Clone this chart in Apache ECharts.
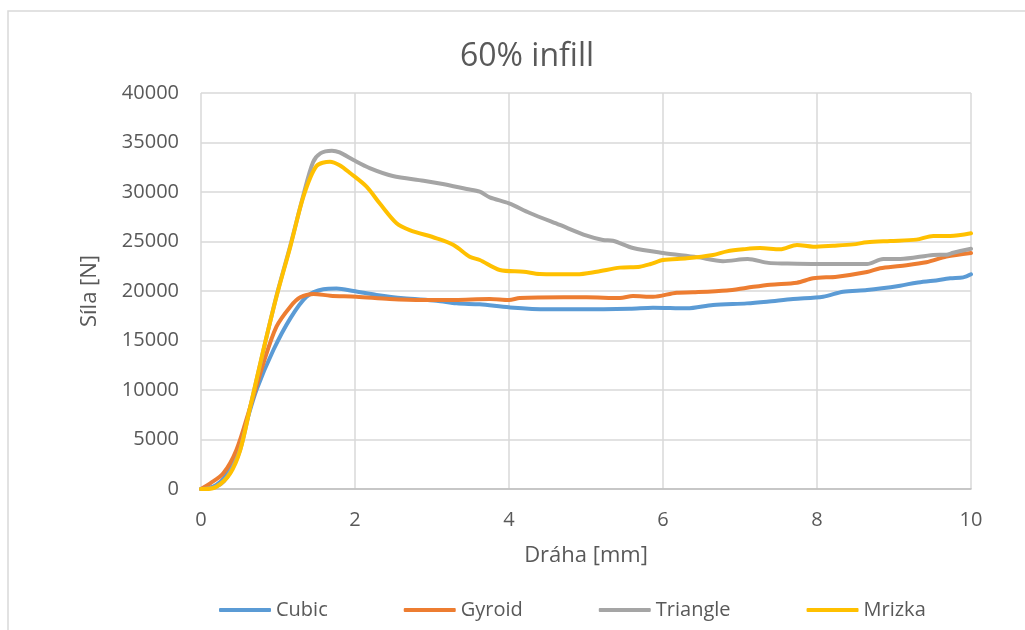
<!DOCTYPE html>
<html>
<head>
<meta charset="utf-8">
<script src="https://cdn.jsdelivr.net/npm/echarts@6/dist/echarts.min.js"></script>
<style>
  html, body { margin: 0; padding: 0; background: #ffffff; }
  #chart { width: 1025px; height: 630px; }
</style>
</head>
<body>
<div id="chart"></div>
<script>
// Force vs. displacement, 60 % infill, four infill patterns
const seriesNames = ['Cubic', 'Gyroid', 'Triangle', 'Mrizka'];
const seriesColors = ['#5B9BD5', '#ED7D31', '#A5A5A5', '#FFC000'];

const cubicX = [0, 0.1, 0.2, 0.3, 0.4, 0.5, 0.6, 0.72, 0.94, 1.16, 1.37, 1.59, 1.76, 1.98, 2.28, 2.63, 3.06, 3.32, 3.62, 4.0, 4.49, 4.92, 5.57, 5.87, 6.31, 6.65, 7.09, 7.35, 7.69, 8.08, 8.34, 8.65, 9.08, 9.29, 9.51, 9.73, 9.9, 10];
const cubicY = [0, 100, 400, 1100, 2300, 4300, 7000, 10000, 14040, 17240, 19420, 20170, 20240, 20000, 19600, 19260, 19020, 18750, 18650, 18350, 18150, 18150, 18210, 18310, 18250, 18590, 18750, 18920, 19190, 19420, 19930, 20100, 20540, 20840, 21040, 21280, 21380, 21690];

const gyroidX = [0, 0.12, 0.29, 0.46, 0.64, 0.81, 0.98, 1.16, 1.29, 1.46, 1.68, 2.02, 2.45, 2.89, 3.3, 3.75, 4.0, 4.14, 4.71, 5.01, 5.44, 5.61, 5.87, 6.18, 6.39, 6.83, 7.09, 7.39, 7.74, 7.95, 8.26, 8.65, 8.82, 9.08, 9.42, 9.68, 10];
const gyroidY = [0, 570, 1580, 3940, 8310, 12700, 16400, 18420, 19360, 19700, 19530, 19430, 19190, 19090, 19100, 19190, 19090, 19290, 19360, 19360, 19290, 19490, 19420, 19830, 19870, 20050, 20330, 20640, 20840, 21280, 21450, 21920, 22290, 22530, 22900, 23470, 23840];

const triangleX = [0, 0.1, 0.2, 0.3, 0.4, 0.51, 0.64, 0.81, 0.98, 1.16, 1.33, 1.455, 1.55, 1.7, 1.8, 1.98, 2.19, 2.49, 2.89, 3.14, 3.45, 3.62, 3.75, 4.0, 4.27, 4.66, 5.01, 5.22, 5.35, 5.61, 6.0, 6.44, 6.78, 7.1, 7.37, 7.6, 8.0, 8.65, 8.86, 9.08, 9.51, 9.68, 9.77, 10];
const triangleY = [0, 50, 250, 800, 2000, 4000, 8300, 14000, 19500, 24600, 29700, 33000, 33900, 34170, 34000, 33230, 32420, 31620, 31140, 30800, 30300, 30030, 29460, 28850, 27880, 26670, 25590, 25150, 25080, 24340, 23840, 23420, 23010, 23230, 22840, 22780, 22730, 22730, 23230, 23230, 23640, 23670, 23870, 24270];

const mrizkaX = [0, 0.05, 0.2, 0.38, 0.51, 0.64, 0.81, 0.98, 1.16, 1.33, 1.5, 1.675, 1.8, 1.94, 2.15, 2.32, 2.54, 2.71, 3.06, 3.28, 3.49, 3.62, 3.88, 4.19, 4.4, 4.88, 5.14, 5.44, 5.7, 5.83, 6.0, 6.31, 6.65, 6.83, 7.04, 7.26, 7.52, 7.74, 7.95, 8.21, 8.47, 8.65, 8.95, 9.29, 9.51, 9.73, 10];
const mrizkaY = [0, 0, 230, 1580, 3940, 8310, 14040, 19420, 24480, 29530, 32620, 33060, 32700, 31890, 30540, 28860, 26840, 26160, 25320, 24650, 23470, 23130, 22120, 21950, 21720, 21690, 21950, 22360, 22460, 22700, 23130, 23300, 23640, 24000, 24210, 24340, 24210, 24650, 24480, 24580, 24710, 24920, 25050, 25190, 25560, 25560, 25830];

const xTicks = [0, 2, 4, 6, 8, 10];
const yTicks = [0, 5000, 10000, 15000, 20000, 25000, 30000, 35000, 40000];

const allX = [cubicX, gyroidX, triangleX, mrizkaX];
const allY = [cubicY, gyroidY, triangleY, mrizkaY];

const FONT = '"Open Sans", "Noto Sans", sans-serif';
const TEXT = '#595959';

const chart = echarts.init(document.getElementById('chart'), null, { renderer: 'canvas' });

chart.setOption({
  backgroundColor: '#ffffff',
  animation: false,
  graphic: [{
    type: 'rect',
    shape: { x: 8, y: 11, width: 1040, height: 640 },
    style: { fill: 'none', stroke: '#d9d9d9', lineWidth: 1.5 },
    silent: true
  }],
  title: {
    text: '60% infill',
    left: 522,
    textAlign: 'center',
    top: 36,
    textStyle: { fontFamily: FONT, fontSize: 32, fontWeight: 'normal', color: TEXT }
  },
  legend: {
    data: seriesNames,
    left: 214,
    top: 595,
    icon: 'roundRect',
    itemWidth: 52,
    itemHeight: 4,
    itemGap: 76,
    textStyle: { fontFamily: FONT, fontSize: 20, color: TEXT, padding: [0, 0, 0, 0] }
  },
  grid: { left: 201, right: 54, top: 93, bottom: 141, containLabel: false },
  xAxis: {
    type: 'value',
    min: xTicks[0],
    max: xTicks[xTicks.length - 1],
    interval: xTicks[1] - xTicks[0],
    name: 'Dráha [mm]',
    nameLocation: 'middle',
    nameGap: 56,
    nameTextStyle: { fontFamily: FONT, fontSize: 22, color: TEXT },
    axisLine: { show: true, lineStyle: { color: '#bfbfbf', width: 1.5 } },
    axisTick: { show: false },
    axisLabel: { fontFamily: FONT, fontSize: 20, color: TEXT, margin: 21 },
    splitLine: { show: true, lineStyle: { color: '#d9d9d9', width: 1.5 } }
  },
  yAxis: {
    type: 'value',
    min: yTicks[0],
    max: yTicks[yTicks.length - 1],
    interval: yTicks[1] - yTicks[0],
    name: 'Síla [N]',
    nameLocation: 'middle',
    nameGap: 100,
    nameRotate: 90,
    nameTextStyle: { fontFamily: FONT, fontSize: 22, color: TEXT },
    axisLine: { show: false },
    axisTick: { show: false },
    axisLabel: { fontFamily: FONT, fontSize: 20, color: TEXT, margin: 22, formatter: (v) => String(v) },
    splitLine: { show: true, lineStyle: { color: '#d9d9d9', width: 1.5 } }
  },
  series: seriesNames.map((name, i) => ({
    name: name,
    type: 'line',
    data: allX[i].map((x, k) => [x, allY[i][k]]),
    smooth: 0.3,
    showSymbol: false,
    symbol: 'none',
    color: seriesColors[i],
    lineStyle: { width: 4, color: seriesColors[i], cap: 'round', join: 'round' },
    z: 2 + i
  }))
});
</script>
</body>
</html>
